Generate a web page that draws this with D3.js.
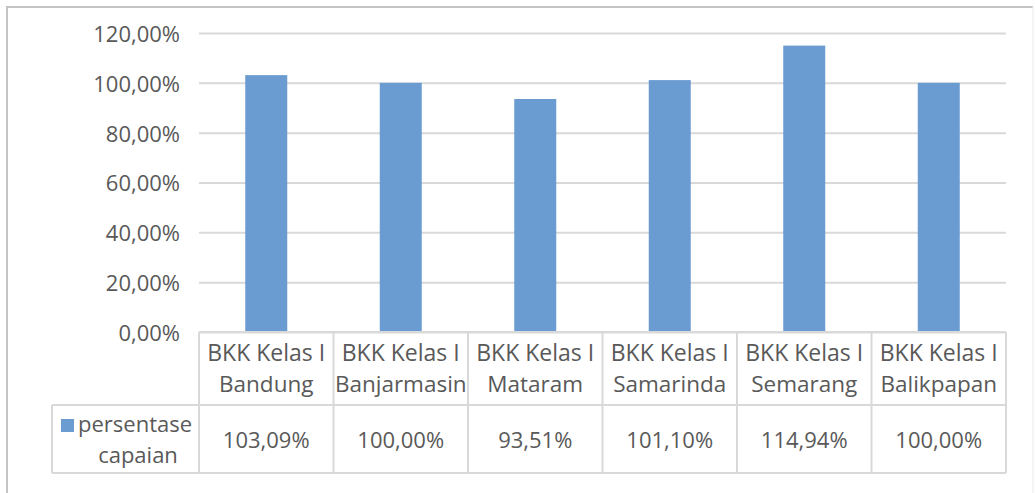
<!DOCTYPE html>
<html>
<head>
<meta charset="utf-8">
<script src="https://cdn.jsdelivr.net/npm/d3@7"></script>
<style>
  body { margin: 0; background: #fff; }
  svg { display: block; }
</style>
</head>
<body>
<svg></svg>
<script>
const w = 1035
const h = 493

// data
const cities = ['Bandung', 'Banjarmasin', 'Mataram', 'Samarinda', 'Semarang', 'Balikpapan']
const prefix = 'BKK Kelas I'
const values = [103.09, 100.00, 93.51, 101.10, 114.94, 100.00]
const yTicks = [0, 20, 40, 60, 80, 100, 120]
const seriesName = ['persentase', 'capaian']

const font = '"Open Sans", "Noto Sans", sans-serif'
const textColor = '#595959'

const svg = d3.select('svg')
  .attr('width', w)
  .attr('height', h);

const margin = {top: 33, left: 199, right: 29, bottom: 161};
const innerWidth = w - margin.left - margin.right;
const innerHeight = h - margin.top - margin.bottom;

const locale = d3.formatLocale({decimal: ',', thousands: '.', grouping: [3], currency: ['', '']});
const pct = v => locale.format('.2f')(v) + '%';

const xScale = d3.scaleBand()
  .domain(cities)
  .range([0, innerWidth]);

const yScale = d3.scaleLinear()
  .domain([0, 120])
  .range([innerHeight, 0]);

// outer frame
svg.append('path')
  .attr('d', `M7,${h} V7 H1033`)
  .attr('fill', 'none')
  .attr('stroke', '#c4c4c4')
  .attr('stroke-width', 2);
svg.append('line')
  .attr('x1', 1033).attr('x2', 1033).attr('y1', 7).attr('y2', h)
  .attr('stroke', '#f0f0f0')
  .attr('stroke-width', 1.5);

const g = svg.append('g')
  .attr('transform', `translate(${margin.left}, ${margin.top})`);

const yAxis = d3.axisLeft(yScale)
  .tickValues(yTicks)
  .tickFormat(pct)
  .tickSize(-innerWidth)
  .tickPadding(19);

const yAxisG = g.append('g').call(yAxis)
  .attr('font-family', font)
  .attr('font-size', 22);
yAxisG.select('.domain').remove();
yAxisG.selectAll('line').attr('stroke', '#d9d9d9').attr('stroke-width', 2);
yAxisG.selectAll('text')
  .attr('fill', textColor)
  .attr('dy', '0.38em');

// bars
const barW = 42;
g.selectAll('rect.bar').data(values)
  .enter().append('rect')
  .attr('class', 'bar')
  .attr('x', (d, i) => xScale(cities[i]) + (xScale.bandwidth() - barW) / 2)
  .attr('y', d => yScale(d))
  .attr('width', barW)
  .attr('height', d => innerHeight - yScale(d))
  .attr('fill', '#6a9bd1');

// data table
const rowH1 = 73;
const rowH2 = 68;
const legendLeft = 52 - margin.left;
const tbl = g.append('g')
  .attr('transform', `translate(0, ${innerHeight})`)
  .attr('font-family', font)
  .attr('fill', textColor);
const lineStyle = sel => sel.attr('stroke', '#d9d9d9').attr('stroke-width', 2);

tbl.append('line').attr('x1', 0).attr('x2', innerWidth).attr('y1', 0).attr('y2', 0).call(lineStyle);
tbl.append('line').attr('x1', legendLeft).attr('x2', innerWidth).attr('y1', rowH1).attr('y2', rowH1).call(lineStyle);
tbl.append('line').attr('x1', legendLeft).attr('x2', innerWidth).attr('y1', rowH1 + rowH2).attr('y2', rowH1 + rowH2).call(lineStyle);
tbl.append('line').attr('x1', legendLeft).attr('x2', legendLeft).attr('y1', rowH1).attr('y2', rowH1 + rowH2).call(lineStyle);

tbl.selectAll('line.col').data(cities.concat(['end']))
  .enter().append('line')
  .attr('class', 'col')
  .attr('x1', (d, i) => i * xScale.bandwidth())
  .attr('x2', (d, i) => i * xScale.bandwidth())
  .attr('y1', 0)
  .attr('y2', rowH1 + rowH2)
  .call(lineStyle);

const cx = d => xScale(d) + xScale.bandwidth() / 2;
tbl.selectAll('text.cat1').data(cities)
  .enter().append('text')
  .attr('class', 'cat1')
  .attr('text-anchor', 'middle')
  .attr('font-size', 23)
  .attr('x', cx)
  .attr('y', 29)
  .text(prefix);
tbl.selectAll('text.cat2').data(cities)
  .enter().append('text')
  .attr('class', 'cat2')
  .attr('text-anchor', 'middle')
  .attr('font-size', 22.5)
  .attr('x', cx)
  .attr('y', 60)
  .text(d => d);

tbl.selectAll('text.val').data(values)
  .enter().append('text')
  .attr('class', 'val')
  .attr('text-anchor', 'middle')
  .attr('font-size', 22)
  .attr('x', (d, i) => cx(cities[i]))
  .attr('y', rowH1 + 43)
  .text(d => pct(d));

// legend key
tbl.append('rect')
  .attr('x', 61 - margin.left)
  .attr('y', rowH1 + 14)
  .attr('width', 13)
  .attr('height', 13)
  .attr('fill', '#6a9bd1');
tbl.append('text')
  .attr('x', 78 - margin.left)
  .attr('y', rowH1 + 27)
  .attr('font-size', 22)
  .text(seriesName[0]);
tbl.append('text')
  .attr('x', 138 - margin.left)
  .attr('y', rowH1 + 58)
  .attr('text-anchor', 'middle')
  .attr('font-size', 22)
  .text(seriesName[1]);
</script>
</body>
</html>
